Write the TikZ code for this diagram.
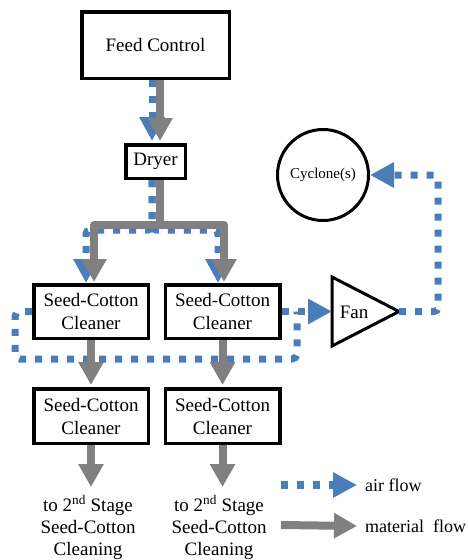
\documentclass[tikz,border=0pt]{standalone}
\usepackage{fontspec}
\setmainfont{Liberation Serif}
\usetikzlibrary{arrows.meta}
\definecolor{airblue}{HTML}{4A7EBB}
\definecolor{matgray}{HTML}{808080}
\tikzset{
  box/.style={draw, line width=3.5pt, fill=white, inner sep=0pt, align=center,
    font=\fontsize{19}{23}\selectfont},
  lbl/.style={inner sep=0pt, align=center, font=\fontsize{19}{22}\selectfont},
  air/.style={draw=airblue, line width=7pt, dash pattern=on 7pt off 9pt,
    -{Triangle[length=24pt,width=24pt]}},
  airline/.style={draw=airblue, line width=7pt, dash pattern=on 7pt off 9pt},
  mat/.style={draw=matgray, line width=8pt, line join=round,
    -{Triangle[length=23pt,width=24pt]}},
}
\begin{document}
\begin{tikzpicture}[x=1pt,y=-1pt]
\useasboundingbox (0,0) rectangle (467,560);

% nodes
\node[box, minimum width=147.5, minimum height=66.5] (feed) at (155.5,45) {Feed Control};
\node[box, minimum width=59.5, minimum height=33.5] (dryer) at (155.5,161.5) {Dryer};
\node[box, minimum width=114.5, minimum height=53.5] (c1) at (91,311.5) {Seed-Cotton\\Cleaner};
\node[box, minimum width=114.5, minimum height=53.5] (c2) at (222.5,311.5) {Seed-Cotton\\Cleaner};
\node[box, minimum width=114.5, minimum height=54.5] (c3) at (91,416) {Seed-Cotton\\Cleaner};
\node[box, minimum width=114.5, minimum height=54.5] (c4) at (222.5,416) {Seed-Cotton\\Cleaner};
\node[draw, circle, line width=3pt, minimum size=91, inner sep=0pt,
  font=\fontsize{15}{18}\selectfont] (cyc) at (323,175) {Cyclone(s)};
\draw[line width=3pt, line join=miter] (332,277) -- (399,311.5) -- (332,346) -- cycle;
\coordinate (fanL) at (332,311.5);
\coordinate (fanR) at (399,311.5);
\coordinate (merge) at (297,311.5);
\node[inner sep=0pt, font=\fontsize{19}{23}\selectfont] (fan) at (354,312) {Fan};
\node[lbl, anchor=north] (out1) at (88,495.5) {to 2\textsuperscript{nd} Stage\\Seed-Cotton\\Cleaning};
\node[lbl, anchor=north] (out2) at (219,495.5) {to 2\textsuperscript{nd} Stage\\Seed-Cotton\\Cleaning};

% air flow
\draw[air, shorten >=2pt] ([xshift=-3.5pt]feed.south) -- ([xshift=-3.5pt]dryer.north);
\draw[air, rounded corners=4pt] ([xshift=-3.5pt]dryer.south) -- ++(0,50) -| ([xshift=-5pt]c1.north);
\draw[air, rounded corners=4pt] ([xshift=-3.5pt]dryer.south) -- ++(0,50) -| ([xshift=-4.5pt]c2.north);
\draw[airline, rounded corners=5pt] (c1.west) -- ++(-17,0) -- ++(0,47.5) -| (merge);
\draw[air] (c2.east) -- (fanL);
\draw[air, rounded corners=4pt] (fanR) -- ++(39,0) |- (cyc.east);

% material flow
\draw[mat, shorten >=2pt] ([xshift=4.5pt]feed.south) -- ([xshift=4.5pt]dryer.north);
\draw[mat, shorten >=1pt] ([xshift=4.5pt]dryer.south) -- ++(0,45) -| ([xshift=3pt]c1.north);
\draw[mat, shorten >=1pt] ([xshift=4.5pt]dryer.south) -- ++(0,45) -| ([xshift=1.5pt]c2.north);
\draw[mat, shorten >=2pt] (c1.south) -- (c3.north);
\draw[mat, shorten >=2pt] (c2.south) -- (c4.north);
\draw[mat, shorten >=8.5pt] (c3.south) -- (c3.south |- out1.north);
\draw[mat, shorten >=8.5pt] (c4.south) -- (c4.south |- out2.north);

% legend
\coordinate (lgA) at (281,485);
\coordinate (lgM) at (281,525);
\node[anchor=west, inner sep=0pt, font=\fontsize{18}{20}\selectfont] (lgair) at (365,485) {air flow};
\node[anchor=west, inner sep=0pt, font=\fontsize{18}{20}\selectfont] (lgmat) at (365,526) {material\ \ flow};
\draw[air, line width=8pt] (lgA) -- ([xshift=-8pt]lgair.west);
\draw[mat] (lgM) -- ([xshift=-8pt]lgmat.west);
\end{tikzpicture}
\end{document}
